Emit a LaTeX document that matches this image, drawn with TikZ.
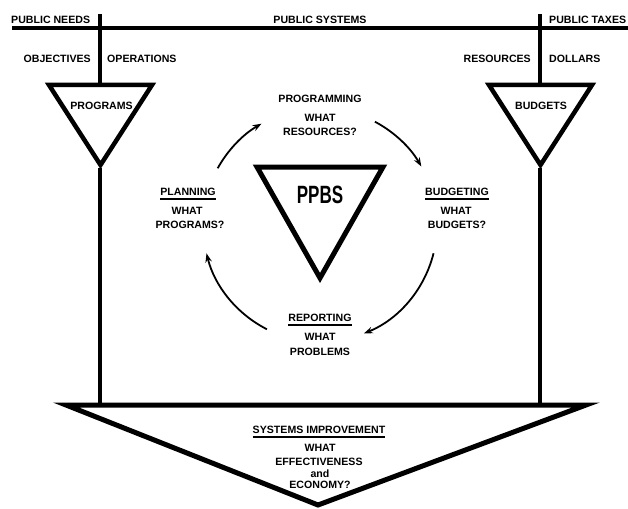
\documentclass[tikz,border=0pt]{standalone}
\usepackage{fontspec}
\setmainfont{Liberation Sans}
\usepackage{graphicx}
\usetikzlibrary{arrows.meta}
\tikzset{
  lab/.style={font=\fontsize{10.6}{12}\selectfont\bfseries, inner sep=0pt},
  thickline/.style={line width=4.5pt},
  tri/.style={line width=4.5pt, line join=miter},
  bigtri/.style={line width=5pt, line join=miter},
  cyc/.style={line width=1.8pt, -{Stealth[length=9pt,width=6.5pt]}},
  ul/.style={line width=2pt},
}
\begin{document}
\begin{tikzpicture}[x=1pt,y=-1pt]
\useasboundingbox (0,0) rectangle (628,508);

% ---- top bar and verticals
\coordinate (hbL) at (12,28);
\coordinate (hbR) at (628,28);
\draw[thickline] (hbL) -- (hbR);

\coordinate (vl0) at (100,14);
\coordinate (vr0) at (540,14);

% programs triangle
\coordinate (pgA) at (49,85);
\coordinate (pgB) at (152,85);
\coordinate (pgC) at (100.5,165);
\coordinate (pgT) at (100,85);
\coordinate (pgD) at (100,168);
% budgets triangle
\coordinate (bgA) at (489,85);
\coordinate (bgB) at (592,85);
\coordinate (bgC) at (540.5,165);
\coordinate (bgT) at (540,85);
\coordinate (bgD) at (540,168);
% PPBS triangle
\coordinate (ppA) at (257,167);
\coordinate (ppB) at (383,167);
\coordinate (ppC) at (320,278);
% bottom triangle
\coordinate (siA) at (66,405);
\coordinate (siB) at (586,405);
\coordinate (siC) at (318,505);
\coordinate (siL) at (100,405);
\coordinate (siR) at (540,405);

\draw[thickline] (vl0) -- (pgT);
\draw[thickline] (vr0) -- (bgT);
\draw[thickline] (pgD) -- (siL);
\draw[thickline] (bgD) -- (siR);

\draw[tri] (pgA) -- (pgB) -- (pgC) -- cycle;
\draw[tri] (bgA) -- (bgB) -- (bgC) -- cycle;
\draw[bigtri] (ppA) -- (ppB) -- (ppC) -- cycle;
\draw[bigtri] (siA) -- (siB) -- (siC) -- cycle;

% ---- top labels
\node[lab, anchor=west] (pneeds) at (11,19.5) {PUBLIC NEEDS};
\node[lab] (psys) at (320,19.5) {PUBLIC SYSTEMS};
\node[lab, anchor=west] (ptax) at (549,19.5) {PUBLIC TAXES};
\node[lab, anchor=east] (obj) at (91,59) {OBJECTIVES};
\node[lab, anchor=west] (ops) at (107,59) {OPERATIONS};
\node[lab, anchor=east] (res) at (531,59) {RESOURCES};
\node[lab, anchor=west] (dol) at (549,59) {DOLLARS};
\node[lab] (progs) at (101.5,105.5) {PROGRAMS};
\node[lab] (budg) at (541,106) {BUDGETS};

% ---- PPBS
\node[inner sep=0pt] (ppbs) at (320,195)
  {\scalebox{0.68}[1]{\fontsize{25}{25}\selectfont\bfseries PPBS}};

% ---- cycle labels
\node[lab] (pgm) at (320,99) {PROGRAMMING};
\node[lab] (pgmw) at (320,117.5) {WHAT};
\node[lab] (pgmq) at (320,132) {RESOURCES?};

\node[lab] (pln) at (188,192) {PLANNING};
\node[lab] (plnw) at (187,211) {WHAT};
\node[lab] (plnq) at (190,225) {PROGRAMS?};
\draw[ul] ([yshift=-3pt]pln.south west) -- ([yshift=-3pt]pln.south east);

\node[lab] (bdg) at (457,192) {BUDGETING};
\node[lab] (bdgw) at (456,211) {WHAT};
\node[lab] (bdgq) at (457,225) {BUDGETS?};
\draw[ul] ([yshift=-3pt]bdg.south west) -- ([yshift=-3pt]bdg.south east);

\node[lab] (rep) at (320,318) {REPORTING};
\node[lab] (repw) at (320,337) {WHAT};
\node[lab] (repq) at (320,352) {PROBLEMS};
\draw[ul] ([yshift=-3pt]rep.south west) -- ([yshift=-3pt]rep.south east);

\node[lab] (sim) at (319,430) {SYSTEMS IMPROVEMENT};
\node[lab] (simw) at (320,447.5) {WHAT};
\node[lab] (sime) at (319,461.5) {EFFECTIVENESS};
\node[lab] (sima) at (320,473.5) {and};
\node[lab] (simq) at (320,485) {ECONOMY?};
\draw[ul] ([yshift=-3pt]sim.south west) -- ([yshift=-3pt]sim.south east);

% ---- cycle arrows
\coordinate (cen) at (320,225);
\coordinate (a1) at ([shift={(-151:117)}]cen);
\coordinate (a2) at ([shift={(-62:117)}]cen);
\coordinate (a3) at ([shift={(14:117)}]cen);
\coordinate (a4) at ([shift={(117:117)}]cen);
\draw[cyc] (a1) arc[start angle=-151, end angle=-120, radius=117];
\draw[cyc] (a2) arc[start angle=-62, end angle=-30, radius=117];
\draw[cyc] (a3) arc[start angle=14, end angle=68, radius=117];
\draw[cyc] (a4) arc[start angle=117, end angle=166, radius=117];
\end{tikzpicture}
\end{document}
